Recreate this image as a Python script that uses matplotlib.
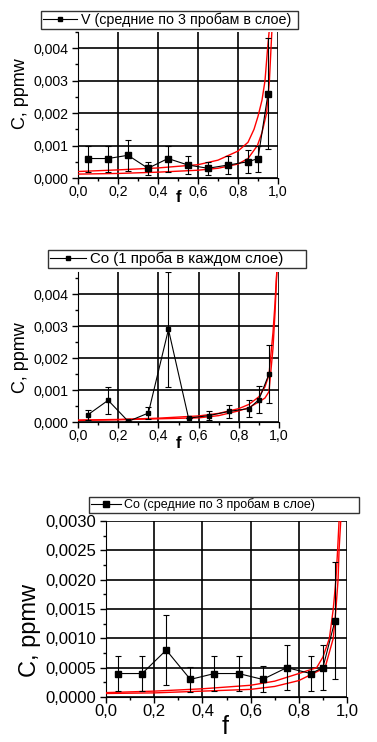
import matplotlib
matplotlib.use("Agg")
import matplotlib.pyplot as plt
from matplotlib.lines import Line2D
from matplotlib.ticker import FuncFormatter, MultipleLocator

plt.rcParams['font.family'] = ['Liberation Sans', 'DejaVu Sans']

# --- data ---
f_pts = [0.05, 0.15, 0.25, 0.35, 0.45, 0.55, 0.65, 0.75, 0.85, 0.90, 0.95]

# panel 1: V, means of 3 samples
v_mean = [0.0006, 0.0006, 0.0007, 0.0003, 0.0006, 0.0004, 0.0003, 0.0004, 0.0005, 0.0006, 0.0026]
v_err = [0.0004, 0.0004, 0.00047, 0.0002, 0.0004, 0.00028, 0.0002, 0.00027, 0.00035, 0.0004, 0.0017]
v_fit_f = [0.0, 0.2, 0.4, 0.6, 0.7, 0.8, 0.85, 0.88, 0.9, 0.92, 0.935, 0.948, 0.957]
v_fit_hi = [0.0002, 0.00025, 0.00031, 0.00041, 0.00055, 0.00083, 0.0011, 0.0015, 0.0019, 0.0024, 0.003, 0.004, 0.0046]
v_fit_f2 = [0.0, 0.2, 0.4, 0.6, 0.7, 0.8, 0.85, 0.897, 0.92, 0.943, 0.957, 0.965, 0.97]
v_fit_lo = [0.00012, 0.00014, 0.00018, 0.00024, 0.0003, 0.00043, 0.0006, 0.001, 0.0014, 0.002, 0.003, 0.004, 0.0046]

# panel 2: Co, one sample per layer
co1 = [0.00023, 0.00068, 0.00002, 0.00028, 0.0029, 0.00012, 0.0002, 0.00033, 0.00042, 0.0007, 0.0015]
co1_err = [0.00016, 0.00042, 0.0, 0.00018, 0.0018, 0.0, 0.00013, 0.0002, 0.00027, 0.00042, 0.00092]
co1_fit_f = [0.0, 0.2, 0.4, 0.6, 0.7, 0.8, 0.85, 0.9, 0.93, 0.95, 0.97, 0.98, 0.985, 0.99]
co1_fit_hi = [0.00006, 0.00008, 0.00012, 0.00019, 0.00027, 0.00042, 0.00055, 0.00079, 0.0011, 0.00147, 0.0028, 0.0037, 0.0043, 0.0048]
co1_fit_lo = [0.00005, 0.00007, 0.0001, 0.00013, 0.0002, 0.00035, 0.00045, 0.00063, 0.00075, 0.00095, 0.0023, 0.0034, 0.0041, 0.0048]

# panel 3: Co, means of 3 samples
co3 = [0.0004, 0.0004, 0.0008, 0.0003, 0.0004, 0.0004, 0.0003, 0.0005, 0.0004, 0.0005, 0.0013]
co3_err = [0.0003, 0.0003, 0.0006, 0.00021, 0.0003, 0.0003, 0.00022, 0.00038, 0.0003, 0.00038, 0.001]
co3_fit_f = [0.0, 0.2, 0.4, 0.6, 0.7, 0.8, 0.874, 0.9, 0.927, 0.943, 0.954, 0.961, 0.967]
co3_fit_hi = [0.000075, 0.0001, 0.00014, 0.0002, 0.00027, 0.0004, 0.0005, 0.00068, 0.001, 0.0015, 0.002, 0.0025, 0.003]
co3_fit_f2 = [0.0, 0.2, 0.4, 0.6, 0.7, 0.8, 0.909, 0.943, 0.954, 0.963, 0.967, 0.974]
co3_fit_lo = [0.00006, 0.00007, 0.0001, 0.00013, 0.00018, 0.00028, 0.0005, 0.001, 0.0015, 0.002, 0.0025, 0.003]

W, H = 377, 742
fig = plt.figure(figsize=(W / 100, H / 100), dpi=100)


def px_axes(l, r, t, b):
    return fig.add_axes([l / W, 1 - b / H, (r - l) / W, (b - t) / H])


def comma(nd):
    return FuncFormatter(lambda v, p: f"{v:.{nd}f}".replace('.', ','))


def style(ax, ymax, ymaj, ynd, fs):
    ax.set_xlim(0, 1.0)
    ax.set_ylim(0, ymax)
    ax.xaxis.set_major_locator(MultipleLocator(0.2))
    ax.xaxis.set_minor_locator(MultipleLocator(0.1))
    ax.yaxis.set_major_locator(MultipleLocator(ymaj))
    ax.yaxis.set_minor_locator(MultipleLocator(ymaj / 2))
    ax.xaxis.set_major_formatter(comma(1))
    ax.yaxis.set_major_formatter(comma(ynd))
    ax.spines['top'].set_visible(False)
    ax.spines['right'].set_visible(False)
    ax.tick_params(which='major', direction='out', length=4, width=1, labelsize=fs)
    ax.tick_params(axis='y', which='major', pad=3)
    ax.tick_params(axis='x', which='major', pad=1)
    ax.tick_params(which='minor', direction='out', length=2, width=1)
    ax.grid(True, which='major', color='black', linewidth=1.2)
    ax.set_axisbelow(True)


def draw(ax, y, err, fits, ms):
    for fx, fy in fits:
        ax.plot(fx, fy, color='red', linewidth=1.0, zorder=3)
    ax.errorbar(f_pts, y, yerr=err, color='black', linewidth=0.8, elinewidth=0.8,
                capsize=2.5, capthick=0.8, marker='s', markersize=ms, zorder=4)


def legend(ax, text, box, fs, ms):
    h = Line2D([], [], color='black', linewidth=0.8, marker='s', markersize=ms)
    l, t, r, b = box
    leg = fig.legend([h], [text], loc='center', fontsize=fs, frameon=True, fancybox=False,
                     bbox_to_anchor=(l / W, 1 - b / H, (r - l) / W, (b - t) / H),
                     borderaxespad=0, handlelength=2.4, handletextpad=0.3,
                     borderpad=0.12, mode='expand')
    leg.get_frame().set_edgecolor('black')
    leg.get_frame().set_linewidth(1.0)


# panel 1
ax1 = px_axes(78, 278, 32, 178)
style(ax1, 0.0045, 0.001, 3, 10.2)
draw(ax1, v_mean, v_err, [(v_fit_f, v_fit_hi), (v_fit_f2, v_fit_lo)], 4)
ax1.set_ylabel('C, ppmw', fontsize=13)
ax1.yaxis.set_label_coords(-0.245, 0.58)
fig.text(178 / W, 1 - 197 / H, 'f', fontsize=12, fontweight='bold', ha='center', va='center')
legend(ax1, 'V (средние по 3 пробам в слое)', (41, 11, 298, 29), 10.3, 3.5)

# panel 2
ax2 = px_axes(78, 279, 272, 422)
style(ax2, 0.0047, 0.001, 3, 10.2)
draw(ax2, co1, co1_err, [(co1_fit_f, co1_fit_hi), (co1_fit_f, co1_fit_lo)], 3.5)
ax2.set_ylabel('C, ppmw', fontsize=13)
ax2.yaxis.set_label_coords(-0.245, 0.43)
fig.text(178 / W, 1 - 444 / H, 'f', fontsize=12, fontweight='bold', ha='center', va='center')
legend(ax2, 'Co (1 проба в каждом слое)', (48, 249, 306, 269), 10.8, 3)

# panel 3
ax3 = px_axes(106, 347, 521, 697)
style(ax3, 0.0030, 0.0005, 4, 12)
draw(ax3, co3, co3_err, [(co3_fit_f, co3_fit_hi), (co3_fit_f2, co3_fit_lo)], 4.5)
ax3.set_ylabel('C, ppmw', fontsize=17)
ax3.yaxis.set_label_coords(-0.27, 0.38)
fig.text(225 / W, 1 - 727 / H, 'f', fontsize=18, ha='center', va='center')
legend(ax3, 'Co (средние по 3 пробам в слое)', (89, 497, 359, 513), 9, 4)

fig.savefig('out.png', dpi=100)
